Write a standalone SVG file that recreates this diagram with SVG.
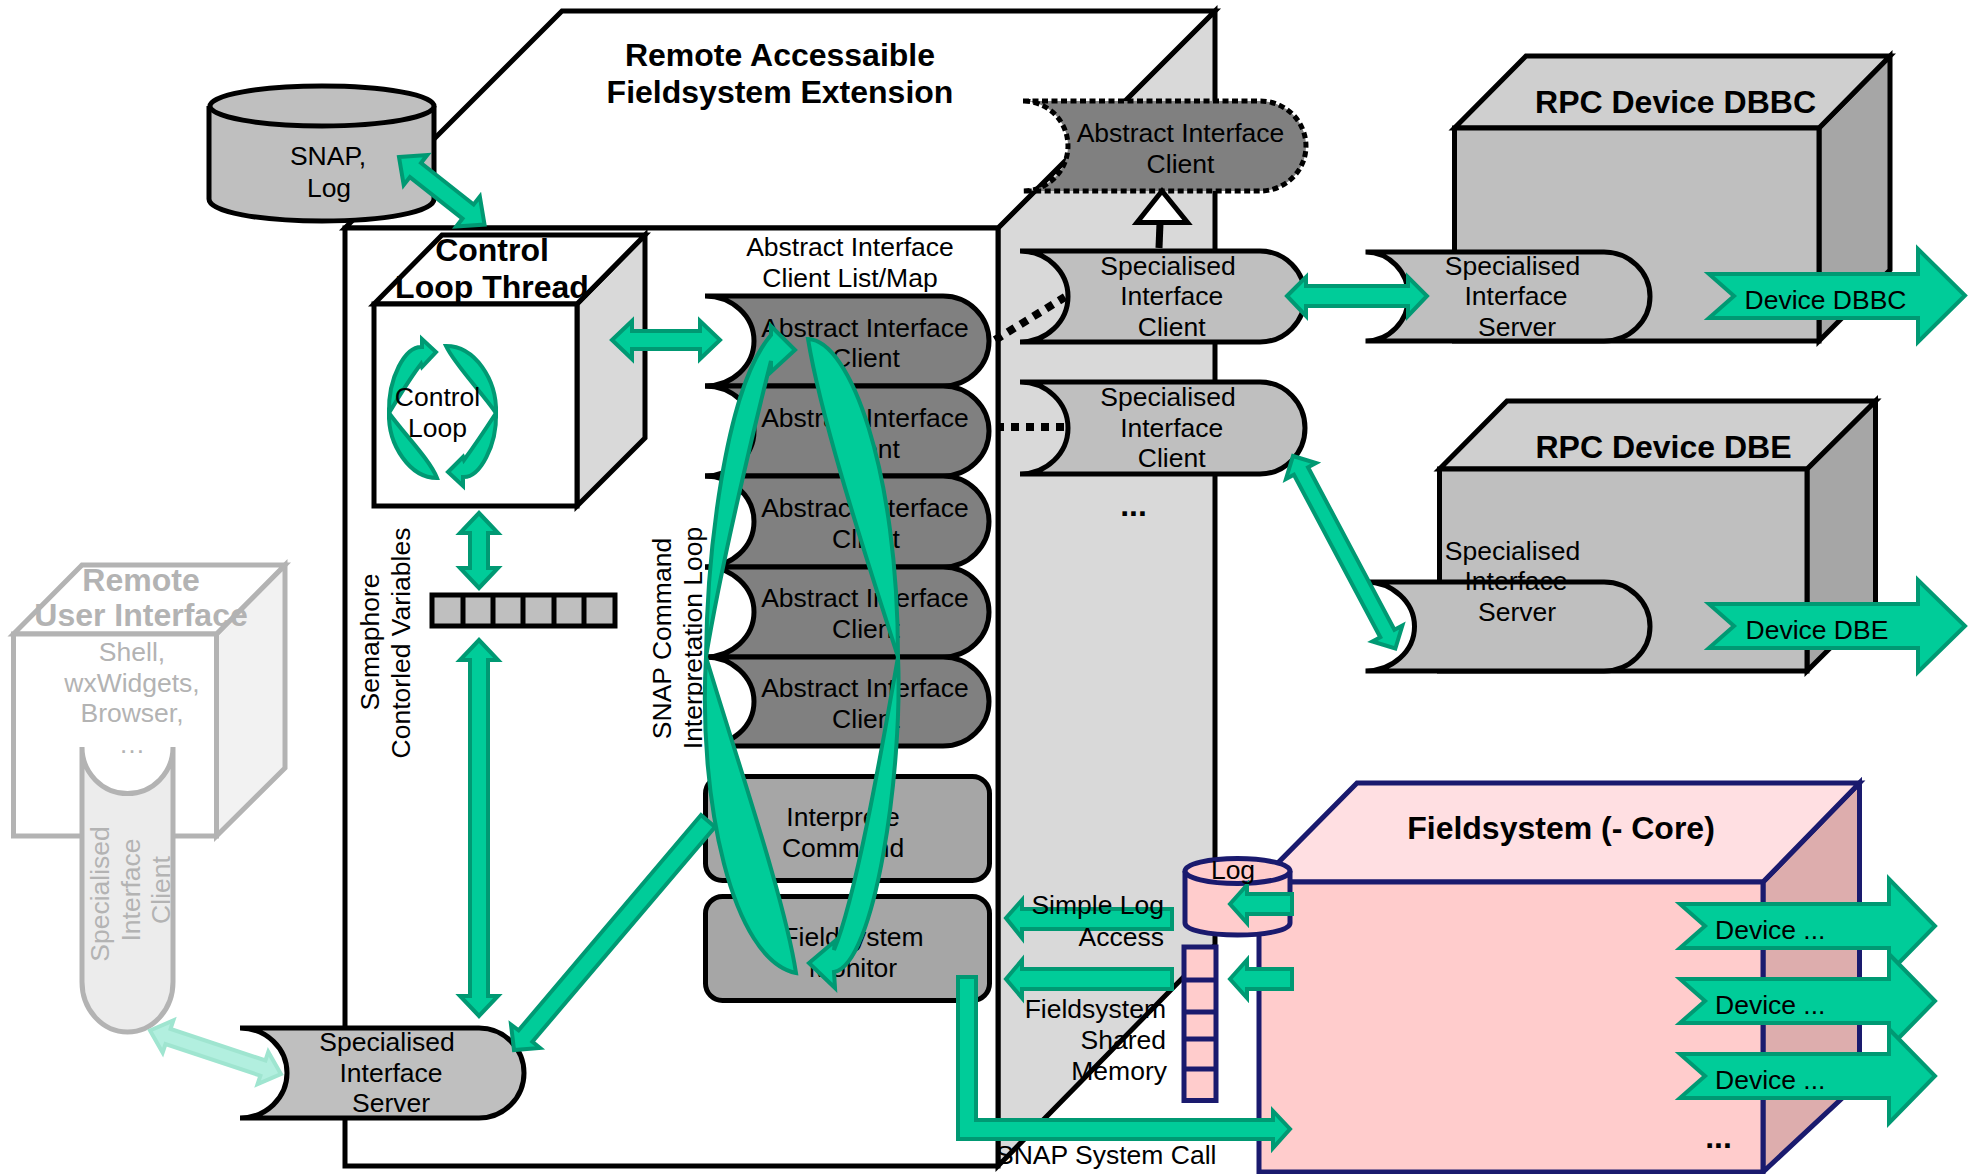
<svg xmlns="http://www.w3.org/2000/svg" width="1977" height="1174" viewBox="0 0 1977 1174">
<style>
text{font-family:"Liberation Sans",Arial,sans-serif;font-size:26.5px;fill:#000;text-anchor:middle}
.b{font-weight:bold;font-size:32px}
.l{text-anchor:start}
.r{text-anchor:end}
.k{stroke:#000;stroke-width:5;stroke-linejoin:miter}
.g{fill:#00cc99;stroke:#009973;stroke-width:4;stroke-linejoin:miter}
.w{fill:#fff}.d9{fill:#d9d9d9}.s{fill:#bfbfbf}.a{fill:#808080}.m{fill:#a6a6a6}
.n{stroke:#1a1a6e;stroke-width:5;fill:#ffcccc}
.gy{stroke:#b3b3b3;stroke-width:5}
.gt{fill:#b3b3b3}
.lg{fill:#b2efdf;stroke:#9fe5d0;stroke-width:4}
.dot{fill:none;stroke:#000;stroke-width:8;stroke-dasharray:8 7}
</style>

<g id="main-cube">
<path class="k d9" d="M998 228L1215 11V945L998 1166Z"/>
<path class="k w" d="M345 228L562 11H1215L998 228Z"/>
<rect class="k w" x="345" y="228" width="653" height="938"/>
<text class="b" x="780" y="66">Remote Accessaible</text>
<text class="b" x="780" y="103">Fieldsystem Extension</text>
</g>

<g id="snap-log">
<path class="k s" d="M209 106V199C209 212 260 221 322 221S434 212 434 199V106"/>
<ellipse class="k s" cx="322" cy="106" rx="112" ry="20"/>
<text x="328" y="165">SNAP,</text>
<text x="329" y="197">Log</text>
</g>

<g id="control-loop-thread">
<path class="k d9" d="M577 304L645 235V438L577 506Z"/>
<path class="k w" d="M374 304L442 235H645L577 304Z"/>
<rect class="k w" x="374" y="304" width="203" height="202"/>
<text class="b" x="492" y="261">Control</text>
<text class="b" x="492" y="298">Loop Thread</text>
</g>

<g id="semaphore-vars">
<rect class="k s" x="432" y="595" width="183" height="31"/>
<path class="k" fill="none" d="M463 595V626M493 595V626M523 595V626M554 595V626M584 595V626"/>
<text transform="translate(379 642) rotate(-90)">Semaphore</text>
<text transform="translate(410 643) rotate(-90)">Contorled Variables</text>
</g>

<g id="loop-label">
<text transform="translate(671 638.500) rotate(-90)">SNAP Command</text>
<text transform="translate(702 638) rotate(-90)">Interpretation Loop</text>
</g>

<g id="client-list">
<text x="850" y="256">Abstract Interface</text>
<text x="850" y="287">Client List/Map</text>
</g>
<g id="abstract-client-1">
<path class="k a" d="M705 296H943A46 45 0 0 1 943 386H705A49 45 0 0 0 705 296Z"/>
<text x="865" y="337">Abstract Interface</text>
<text x="866" y="367">Client</text>
</g>
<g id="abstract-client-2">
<path class="k a" d="M705 386H943A46 45 0 0 1 943 476H705A49 45 0 0 0 705 386Z"/>
<text x="865" y="427">Abstract Interface</text>
<text x="866" y="458">Client</text>
</g>
<g id="abstract-client-3">
<path class="k a" d="M705 476H943A46 45.500 0 0 1 943 567H705A49 45.500 0 0 0 705 476Z"/>
<text x="865" y="517">Abstract Interface</text>
<text x="866" y="548">Client</text>
</g>
<g id="abstract-client-4">
<path class="k a" d="M705 567H943A46 45 0 0 1 943 657H705A49 45 0 0 0 705 567Z"/>
<text x="865" y="607">Abstract Interface</text>
<text x="866" y="638">Client</text>
</g>
<g id="abstract-client-5">
<path class="k a" d="M705 657H943A46 44.500 0 0 1 943 746H705A49 44.500 0 0 0 705 657Z"/>
<text x="865" y="697">Abstract Interface</text>
<text x="866" y="728">Client</text>
</g>

<g id="interpret-command">
<rect class="k m" x="705.500" y="776.500" width="284" height="104" rx="17"/>
<text x="843" y="826">Interprete</text>
<text x="843" y="857">Command</text>
</g>
<g id="fieldsystem-monitor">
<rect class="k m" x="705.500" y="896.500" width="284" height="104" rx="17"/>
<text x="853" y="946">Fieldsystem</text>
<text x="853" y="977">Monitor</text>
</g>

<g id="remote-ui">
<path class="gy" fill="#f2f2f2" d="M216.500 634L285 565V768L216.500 836Z"/>
<path class="gy w" d="M13.500 634L82 565H285L216.500 634Z"/>
<rect class="gy w" x="13.500" y="634" width="203" height="202"/>
<text class="b gt" x="141" y="591">Remote</text>
<text class="b gt" x="141" y="626">User Interface</text>
<text class="gt" x="132" y="661">Shell,</text>
<text class="gt" x="132" y="692">wxWidgets,</text>
<text class="gt" x="132" y="722">Browser,</text>
<text class="gt" x="132" y="753">…</text>
</g>
<g id="remote-client">
<path class="gy" fill="#ececec" d="M82 747V982A45.500 50 0 0 0 173 982V747A45.500 46.500 0 0 1 82 747Z"/>
<text class="gt" transform="translate(108.500 894) rotate(-90)">Specialised</text>
<text class="gt" transform="translate(140 890) rotate(-90)">Interface</text>
<text class="gt" transform="translate(170 890) rotate(-90)">Client</text>
</g>

<g id="server-main">
<path class="k s" d="M240 1028H479A45 45 0 0 1 479 1118H240A47 45 0 0 0 240 1028Z"/>
<text x="387" y="1051">Specialised</text>
<text x="391" y="1082">Interface</text>
<text x="391" y="1112">Server</text>
</g>

<g id="abstract-client-dotted">
<path class="a" stroke="#000" stroke-width="5" stroke-dasharray="6 3.500" d="M1023 101H1260A46 45 0 0 1 1260 191H1023A45 45 0 0 0 1023 101Z"/>
<text x="1180.500" y="142">Abstract Interface</text>
<text x="1180.500" y="173">Client</text>
</g>

<g id="client-dbbc">
<path class="k s" d="M1020 251H1260A45 45.500 0 0 1 1260 342H1020A48 45.500 0 0 0 1020 251Z"/>
<text x="1168" y="275">Specialised</text>
<text x="1171.700" y="305">Interface</text>
<text x="1171.700" y="336">Client</text>
</g>
<g id="client-dbe">
<path class="k s" d="M1020 382H1260A45 46 0 0 1 1260 474H1020A48 46 0 0 0 1020 382Z"/>
<text x="1168" y="406">Specialised</text>
<text x="1171.700" y="437">Interface</text>
<text x="1171.700" y="467">Client</text>
</g>
<text id="ellipsis-clients" class="b" x="1133.500" y="516">...</text>

<g id="rpc-dbbc">
<path class="k m" d="M1819 128L1890 56V270L1819 341Z"/>
<path class="k" fill="#cfcfcf" d="M1454.500 128L1526 56H1890L1819 128Z"/>
<rect class="k s" x="1454.500" y="128" width="364.500" height="213"/>
<text class="b" x="1675.500" y="113">RPC Device DBBC</text>
</g>
<g id="server-dbbc">
<path class="k s" d="M1365.500 252H1604A46 44.500 0 0 1 1604 341H1365.500A43 44.500 0 0 0 1365.500 252Z"/>
<text x="1512.500" y="275">Specialised</text>
<text x="1516" y="305">Interface</text>
<text x="1517" y="336">Server</text>
</g>

<g id="rpc-dbe">
<path class="k m" d="M1807 469L1875.500 401V603L1807 671Z"/>
<path class="k" fill="#cfcfcf" d="M1439.500 469L1507 401H1875.500L1807 469Z"/>
<rect class="k s" x="1439.500" y="469" width="367.500" height="202"/>
<text class="b" x="1663.500" y="458">RPC Device DBE</text>
</g>
<g id="server-dbe">
<path class="k s" d="M1365.500 582H1604A46 44.500 0 0 1 1604 671H1365.500A49 44.500 0 0 0 1365.500 582Z"/>
<text x="1512.500" y="560">Specialised</text>
<text x="1516" y="590">Interface</text>
<text x="1517" y="621">Server</text>
</g>

<g id="fieldsystem-core">
<path class="n" style="fill:#ddadad" d="M1763 882L1859.500 783V1082L1763 1172Z"/>
<path class="n" style="fill:#ffdfe2" d="M1259 882L1357 783H1859.500L1763 882Z"/>
<rect class="n" x="1259" y="882" width="504" height="290"/>
<text class="b" x="1561" y="839">Fieldsystem (- Core)</text>
<text class="b" x="1718.500" y="1148">...</text>
</g>
<g id="log-store">
<path class="n" d="M1185 871V923C1185 930 1208 935 1237.500 935S1290 930 1290 923V871"/>
<ellipse class="n" cx="1237.500" cy="871" rx="52.500" ry="12.500"/>
</g>
<g id="shared-memory">
<rect class="n" x="1184" y="947" width="32" height="153.500"/>
<path class="n" fill="none" d="M1184 980H1216M1184 1012H1216M1184 1039H1216M1184 1069H1216"/>
</g>

<g id="connectors">
<path class="g" d="M0 0L21 -19V-9H88V-19L109 0L88 19V9H21V19Z" transform="translate(399 157) rotate(38.300)"/>
<path class="g" d="M612 340L632 321V331H700V321L720 340L700 359V349H632V359Z"/>
<path class="g" d="M479 513L498 533H488V568H498L479 588L460 568H470V533H460Z"/>
<path class="g" d="M479 640L498 660H488V996H498L479 1016L460 996H470V660H460Z"/>
<path class="g" d="M701 815L715 827L532.400 1041.700L540 1048L514 1050L511 1024.600L518.600 1030.300Z"/>
<path class="lg" d="M0 0L19 -17V-8H119V-17L138 0L119 17V8H19V17Z" transform="translate(150 1030.500) rotate(18.400)"/>

<path class="g" d="M389 413C388 378 405 346 422 347L422 339L436 352L422 367L421 364C410 378 400 395 389 413Z"/>
<path class="g" d="M446 346C475 346 497 380 496 413C480 390 455 365 446 346Z"/>
<path class="g" d="M496 413C497 445 480 478 463 477L463 486L448 472L463 457L464 460C475 445 485 430 496 413Z"/>
<path class="g" d="M389 413C388 445 410 478 437 478C430 460 405 435 389 413Z"/>

<path class="g" d="M706 657C707 560 724 390 771 335L771 326L795 350L771 372L771 361C756 420 722 560 706 657Z"/>
<path class="g" d="M808 339C850 340 898 470 898 657C872 575 822 425 808 339Z"/>
<path class="g" d="M898 657C903 770 875 965 834 972L835 988L809 963L835 941L834 950C855 900 880 760 898 657Z"/>
<path class="g" d="M706 657C698 800 732 960 796 973C785 900 737 760 706 657Z"/>

<path class="dot" d="M995 340L1065 297"/>
<path class="dot" d="M996 427H1067"/>
<path fill="none" stroke="#000" stroke-width="7" d="M1160 223L1159 248"/>
<path fill="#fff" stroke="#000" stroke-width="5" d="M1162 191L1137 222.500H1187.500Z"/>

<path class="g" d="M1287 296L1306 277V286H1408V277L1427 296L1408 316V306H1306V316Z"/>
<path class="g" d="M0 0L17 -17V-8H201V-17L218 0L201 17V8H17V17Z" transform="translate(1293 456) rotate(62)"/>

<path class="g" d="M1006 918L1022 900V909H1172V929H1022V938Z"/>
<path class="g" d="M1006 979L1022 960V969H1172V989H1022V998Z"/>
<path class="g" d="M1230 904L1247 885V894H1292V914H1247V923Z"/>
<path class="g" d="M1230 979L1247 960V969H1292V989H1247V998Z"/>
<path class="g" d="M958 977H976V1120H1273V1111L1290 1129L1273 1148V1139H958Z"/>
</g>

<g id="labels">
<text id="loop-text-1" x="437.500" y="406">Control</text>
<text id="loop-text-2" x="437.500" y="437">Loop</text>
<text x="1233" y="879">Log</text>
<text class="r" x="1164" y="914">Simple Log</text>
<text class="r" x="1164" y="946">Access</text>
<text class="r" x="1166" y="1018">Fieldsystem</text>
<text class="r" x="1166" y="1049">Shared</text>
<text class="r" x="1167" y="1080">Memory</text>
<text class="l" x="996" y="1164">SNAP System Call</text>
</g>

<g id="device-dbbc">
<path class="g" d="M1709 274H1918V249L1965 295.500L1918 342V318H1709L1734 296Z"/>
<text class="l" x="1744.500" y="309">Device DBBC</text>
</g>
<g id="device-dbe">
<path class="g" d="M1709 604H1918V580L1965 626L1918 672V648H1709L1734 626Z"/>
<text class="l" x="1745.500" y="639">Device DBE</text>
</g>
<g id="device-1">
<path class="g" d="M1680 904H1889V879L1935 926L1889 973V948H1680L1705 926Z"/>
<text class="l" x="1715" y="939">Device ...</text>
</g>
<g id="device-2">
<path class="g" d="M1680 979H1889V954L1935 1001L1889 1048V1023H1680L1705 1001Z"/>
<text class="l" x="1715" y="1014">Device ...</text>
</g>
<g id="device-3">
<path class="g" d="M1680 1054H1889V1029L1935 1076L1889 1123V1098H1680L1705 1076Z"/>
<text class="l" x="1715" y="1089">Device ...</text>
</g>
</svg>
